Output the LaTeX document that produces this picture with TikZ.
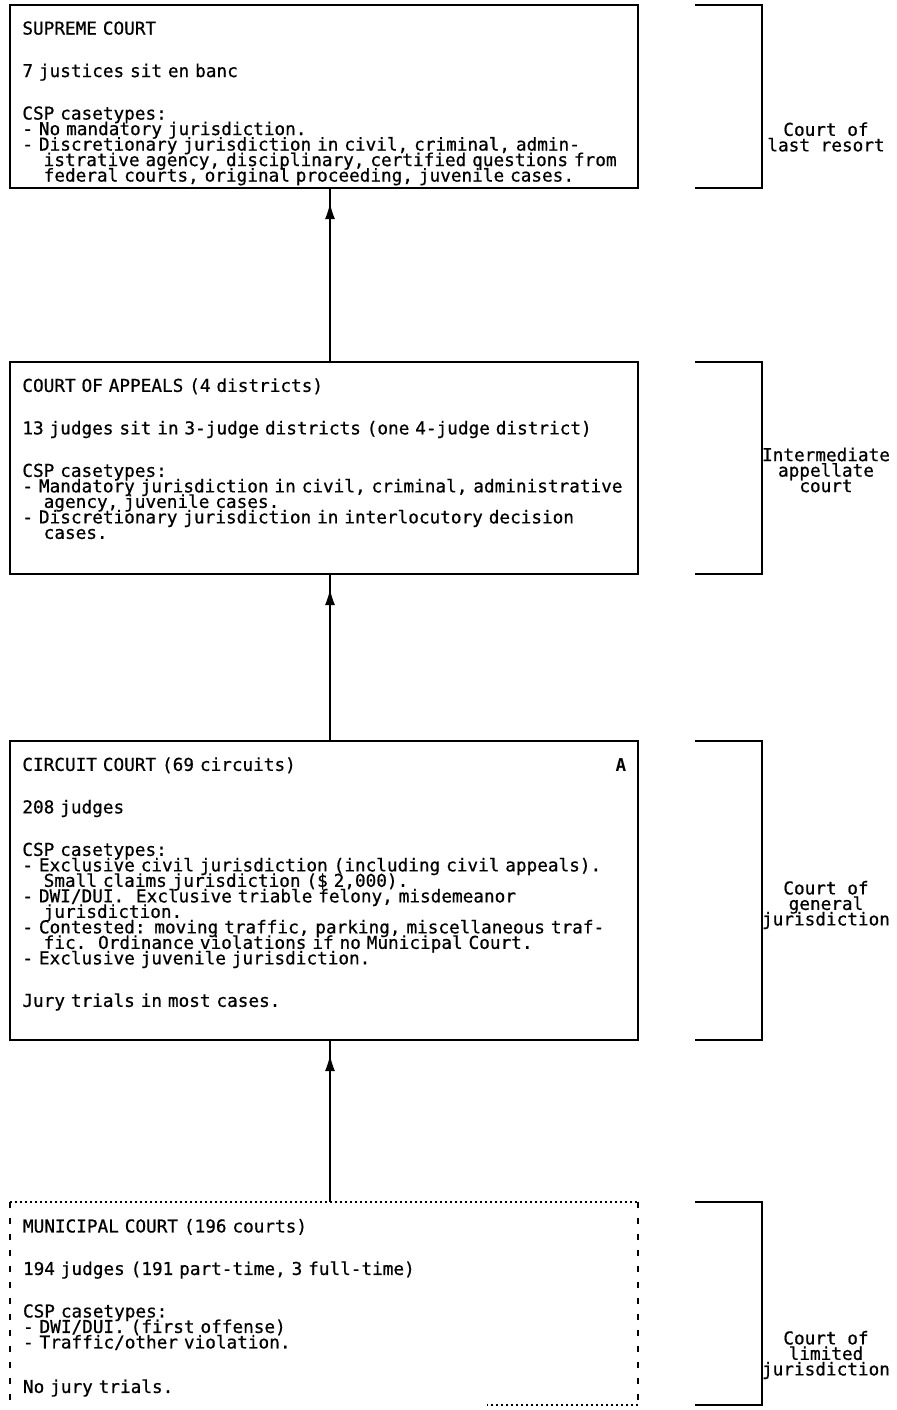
\documentclass[tikz,border=0pt]{standalone}
\usepackage{fontspec}
\setmainfont[UprightFeatures={FakeBold=0.7}]{DejaVu Sans Mono}
\usepackage{tikz}
\usetikzlibrary{arrows.meta,positioning,fit,calc,decorations.markings}

\newcommand{\indt}{\phantom{xx}}
\newcommand{\courtfont}{\fontsize{8.85}{7.75}\selectfont}
\newcommand{\tightlines}{\setlength{\lineskiplimit}{-10pt}\setlength{\lineskip}{0pt}\setlength{\parindent}{0pt}}

\begin{document}
\begin{tikzpicture}[
    x=0.5pt, y=-0.5pt,
    font=\courtfont,
    every node/.style={execute at begin node=\tightlines},
    courtbox/.style={draw, line width=1pt, inner sep=0pt},
    courttext/.style={anchor=north west, inner sep=0pt, align=left, text width=310pt},
    tierlabel/.style={align=center, inner sep=0pt},
    bracket/.style={line width=1pt},
    dotline/.style={line width=1pt, dash pattern=on 1pt off 1.5pt},
    dashline/.style={line width=1pt, dash pattern=on 3pt off 5pt},
    appeal/.style={line width=0.8pt, postaction={decorate},
      decoration={markings, mark=at position -7pt with {\arrow{Latex[length=8pt,width=5pt]}}}}
]
\useasboundingbox (0,0) rectangle (896,1410);

% court boxes
\node[courtbox, fit={(10,5) (638,188)}] (supreme) {};
\node[courtbox, fit={(10,362) (638,574)}] (appeals) {};
\node[courtbox, fit={(10,741) (638,1040)}] (circuit) {};
\node[inner sep=0pt, fit={(10,1202) (638,1405)}] (municipal) {};

% municipal court box, partly dotted
\draw[dotline] (municipal.north west) -- (municipal.north east);
\draw[dashline] (municipal.north west) -- (municipal.south west);
\draw[dashline] (municipal.north east) -- (municipal.south east);
\draw[dotline] (municipal.south east) -- ++(-151,0);

% box contents
\node[courttext] (supremetxt) at ($(supreme.north west)+(13,17)$) {SUPREME COURT\\[13.5pt]
7 justices sit en banc\\[13.5pt]
CSP casetypes:\\
- No mandatory jurisdiction.\\
- Discretionary jurisdiction in civil, criminal, admin-\\
\indt istrative agency, disciplinary, certified questions from\\
\indt federal courts, original proceeding, juvenile cases.};

\node[courttext] (appealstxt) at ($(appeals.north west)+(13,17)$) {COURT OF APPEALS (4 districts)\\[13.5pt]
13 judges sit in 3-judge districts (one 4-judge district)\\[13.5pt]
CSP casetypes:\\
- Mandatory jurisdiction in civil, criminal, administrative\\
\indt agency, juvenile cases.\\
- Discretionary jurisdiction in interlocutory decision\\
\indt cases.};

\node[courttext] (circuittxt) at ($(circuit.north west)+(13,17)$) {CIRCUIT COURT (69 circuits)\\[13.5pt]
208 judges\\[13.5pt]
CSP casetypes:\\
- Exclusive civil jurisdiction (including civil appeals).\\
\indt Small claims jurisdiction (\$ 2,000).\\
- DWI/DUI.\ \ Exclusive triable felony, misdemeanor\\
\indt jurisdiction.\\
- Contested: moving traffic, parking, miscellaneous traf-\\
\indt fic.\ \ Ordinance violations if no Municipal Court.\\
- Exclusive juvenile jurisdiction.\\[13.5pt]
Jury trials in most cases.};
\node[font=\courtfont\bfseries] (grade) at ($(circuit.north east)+(-18,25)$) {A};

\node[courttext] (municipaltxt) at ($(municipal.north west)+(13,17)$) {MUNICIPAL COURT (196 courts)\\[13.5pt]
194 judges (191 part-time, 3 full-time)\\[13.5pt]
CSP casetypes:\\
- DWI/DUI. (first offense)\\
- Traffic/other violation.\\[14.5pt]
No jury trials.};

% appeal routes
\draw[appeal] ([xshift=3pt]appeals.north) -- ([xshift=3pt]supreme.south);
\draw[appeal] ([xshift=3pt]circuit.north) -- ([xshift=3pt]appeals.south);
\draw[appeal] ([xshift=3pt]municipal.north) -- ([xshift=3pt]circuit.south);

% tiers
\draw[bracket] (695,5) -| (762,188) -- (695,188);
\draw[bracket] (695,362) -| (762,574) -- (695,574);
\draw[bracket] (695,741) -| (762,1040) -- (695,1040);
\draw[bracket] (695,1202) -| (762,1405) -- (695,1405);

\node[tierlabel] (lastresort) at (826,137) {Court of\\last resort};
\node[tierlabel] (intermediate) at (826,470) {Intermediate\\appellate\\court};
\node[tierlabel] (general) at (826,905) {Court of\\general\\jurisdiction};
\node[tierlabel] (limited) at (826,1355) {Court of\\limited\\jurisdiction};
\end{tikzpicture}
\end{document}
